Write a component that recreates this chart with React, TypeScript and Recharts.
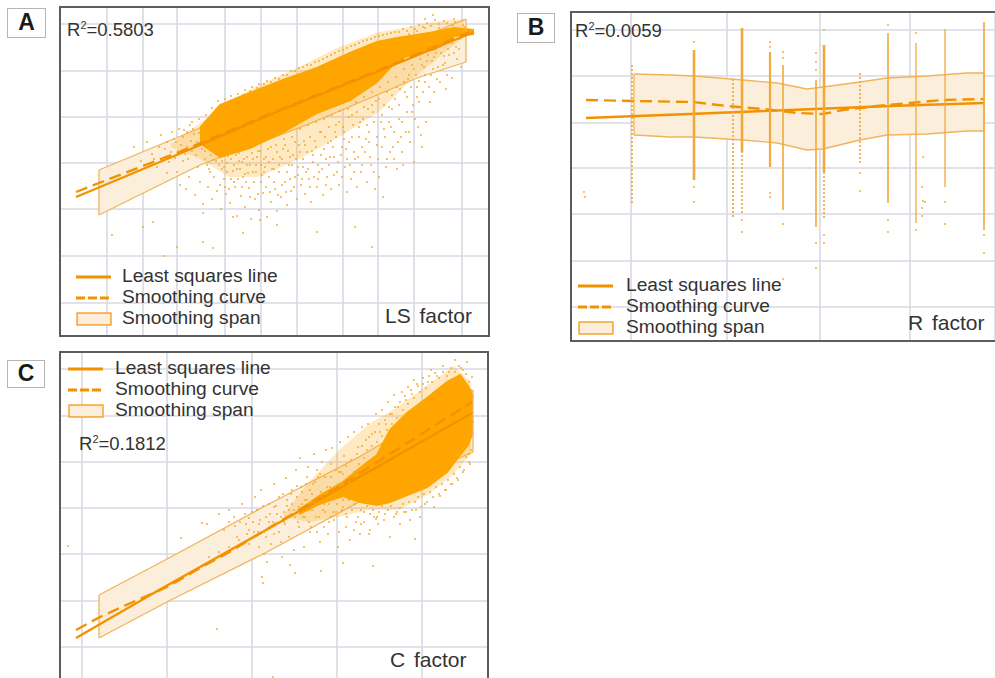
import React from "react";
import { ComposedChart, XAxis, YAxis, CartesianGrid, Line, Area, Scatter, Legend } from "recharts";

type Pair = [number, number];
type Triple = [number, number, number];

const legendLabels = ["Least squares line", "Smoothing curve", "Smoothing span"];

// ---------- Panel A ----------
const aGridX = [48, 84, 118, 166, 202, 238, 284, 319, 355, 403];
const aGridY = [34, 81, 128, 174, 220, 266, 313];
const aLeast: Pair[] = [[17, 140], [120, 183], [220, 226], [320, 266], [415, 305]];
const aSmooth: Pair[] = [[17, 145], [40, 154], [120, 185], [220, 227], [320, 267], [413, 306]];
const aSpan: Triple[] = [[40, 122, 167], [141, 172, 209], [250, 213, 255], [358, 259, 298], [407, 275, 318]];
const aHalo: Triple[] = [[112, 190, 193], [141, 178, 214], [170, 160, 236], [200, 160, 252], [240, 178, 270], [280, 200, 290], [320, 225, 305], [350, 255, 310], [380, 280, 316], [405, 300, 318]];
const aCloud: Triple[] = [[141, 194, 209], [161, 180, 232], [191, 189, 244], [224, 205, 257], [258, 224, 269], [291, 237, 284], [318, 255, 295], [338, 277, 299], [351, 282, 301], [376, 288, 305], [395, 301, 309], [415, 303, 307]];
const aDots: Pair[] = [
  [53, 102], [94, 115], [105, 81], [144, 95], [154, 89], [118, 90], [258, 105], [296, 110], [313, 90], [218, 112], [201, 117], [184, 104], [84, 110], [144, 124], [174, 120],
  [118, 165], [121, 152], [124, 176], [127, 148], [130, 160], [133, 186], [136, 142], [139, 170], [141, 155], [144, 133], [146, 178], [149, 150], [151, 165], [153, 138], [156, 187], [158, 146], [160, 172], [162, 128], [165, 158], [167, 143], [169, 181], [171, 134], [174, 166], [176, 150], [178, 121], [180, 176], [182, 141], [184, 160], [186, 130], [188, 172], [190, 149], [192, 118], [194, 165], [196, 138], [198, 180], [200, 127], [202, 155], [204, 144], [206, 170], [208, 120], [210, 160], [212, 135], [214, 178], [216, 148], [218, 126], [220, 165], [222, 140], [224, 188], [226, 155], [228, 132], [230, 172], [232, 146], [234, 182], [236, 160], [238, 138], [240, 192], [242, 152], [244, 170], [246, 143], [248, 185], [250, 158], [252, 135], [254, 175], [256, 196], [258, 150], [260, 165], [262, 182], [264, 142], [266, 200], [268, 160], [270, 172], [272, 148], [274, 190], [276, 205], [278, 165], [280, 152], [282, 182], [284, 210], [286, 170], [288, 145], [290, 195], [292, 158], [294, 212], [296, 178], [298, 150], [300, 200], [302, 165], [304, 218], [306, 185], [308, 155], [310, 205], [312, 172], [314, 225], [316, 148], [318, 192], [320, 160], [322, 215], [324, 140], [326, 200], [328, 178], [330, 230], [332, 210], [334, 190], [336, 238], [338, 168], [340, 218], [342, 200], [344, 172], [346, 245], [348, 225], [350, 205], [352, 250], [354, 232], [356, 218], [358, 240], [360, 256], [362, 202], [364, 245], [366, 262], [370, 250], [374, 268], [378, 258], [384, 272], [388, 262], [393, 259], [398, 278], [402, 270],
  [75, 190], [82, 176], [88, 195], [93, 183], [98, 170], [102, 202], [106, 188], [110, 175], [113, 205], [117, 195], [120, 208], [124, 200], [128, 190], [131, 212], [135, 203], [138, 195], [126, 183], [116, 179], [108, 164],
  [143, 188], [148, 172], [152, 182], [157, 176], [163, 168], [168, 174], [172, 158], [177, 182], [181, 168], [185, 178], [189, 164], [193, 184], [197, 172], [201, 186], [205, 178], [209, 188], [213, 168], [217, 192], [221, 180], [225, 198], [229, 186], [233, 200], [237, 178], [241, 208], [245, 196], [249, 212], [253, 186], [257, 215], [261, 205], [265, 218], [269, 194], [273, 222], [277, 212], [281, 226], [285, 198], [289, 228], [293, 222], [297, 235], [301, 215], [305, 240], [309, 228], [313, 245], [317, 236], [321, 250], [325, 232], [329, 255], [333, 242], [337, 260], [341, 248], [345, 268], [349, 258], [353, 272], [357, 262], [361, 278], [365, 270], [369, 282], [373, 276], [377, 284], [381, 290], [385, 281], [389, 288], [393, 294], [397, 290], [401, 298],
  [128, 205], [133, 215], [140, 218], [147, 222], [153, 229], [159, 236], [166, 238], [172, 241], [179, 243], [186, 247], [193, 250], [200, 253], [208, 256], [216, 259], [224, 262], [232, 266], [240, 269], [248, 272], [256, 275], [264, 278], [272, 282], [280, 286], [288, 289], [296, 292], [304, 296], [312, 298], [320, 301], [328, 303], [336, 305], [344, 308], [352, 310], [360, 312], [368, 314], [376, 317], [385, 316], [374, 322], [380, 309], [388, 308], [394, 312], [350, 303], [358, 306], [366, 309], [372, 304], [384, 300], [392, 303], [400, 306], [406, 310], [411, 305], [395, 318], [366, 318]
];
const aDense: Pair[] = [
  [146, 186], [150, 192], [154, 177], [158, 184], [163, 176], [165, 170], [168, 165], [170, 186], [172, 178], [175, 172], [178, 168], [180, 184], [183, 175], [186, 163], [188, 180], [191, 172], [194, 178], [197, 165], [199, 186], [202, 172], [205, 165], [207, 180], [210, 175], [212, 190], [215, 168], [218, 185], [220, 172], [223, 178], [226, 192], [228, 165], [231, 180], [233, 172], [236, 195], [239, 170], [241, 185], [244, 178], [246, 192], [249, 168], [251, 200], [254, 182], [257, 190], [259, 172], [262, 205], [265, 188], [267, 178], [270, 210], [272, 196], [275, 180], [277, 200], [280, 215], [283, 190], [285, 205], [288, 178], [290, 220], [293, 200], [295, 185], [298, 225], [300, 210], [303, 190], [305, 230], [308, 212], [310, 195], [313, 232], [315, 215], [318, 200], [320, 238], [323, 222], [325, 208], [328, 245], [330, 215], [333, 228], [335, 205], [338, 250], [340, 232], [343, 215], [345, 255], [348, 240], [350, 262], [353, 225], [355, 268], [358, 250], [360, 235], [363, 272], [366, 255], [368, 276], [372, 262], [375, 280], [379, 270], [382, 284], [386, 274], [390, 282], [395, 284], [400, 288],
  [150, 168], [155, 160], [161, 152], [166, 150], [170, 148], [175, 155], [179, 158], [183, 150], [187, 155], [191, 140], [195, 155], [199, 143], [203, 162], [207, 150], [211, 145], [215, 155], [219, 142], [223, 152], [227, 145], [231, 158], [235, 150], [239, 162], [243, 158], [247, 165], [251, 150], [255, 160], [259, 158], [263, 168], [267, 152], [271, 180], [275, 162], [279, 175], [283, 160], [287, 188], [291, 172], [295, 165], [299, 180], [303, 172], [307, 198], [311, 180], [315, 165], [319, 178], [323, 190], [327, 170], [331, 185], [335, 178], [339, 195], [343, 185], [347, 205], [351, 195], [355, 175], [359, 210], [363, 190], [367, 215], [371, 235], [375, 245], [381, 255], [387, 248],
  [150, 214], [156, 222], [163, 228], [170, 234], [177, 239], [184, 242], [191, 246], [198, 249], [205, 253], [212, 255], [220, 258], [228, 262], [236, 266], [244, 270], [252, 272], [260, 276], [268, 280], [276, 284], [284, 287], [292, 291], [300, 294], [308, 297], [316, 300], [324, 302], [332, 304], [340, 305], [348, 306], [356, 308], [364, 310], [372, 311], [380, 313], [388, 314], [396, 315], [404, 312],
  [95, 178], [100, 190], [104, 178], [108, 195], [112, 185], [115, 198], [119, 186], [122, 192], [125, 207], [129, 178], [132, 196], [134, 208], [137, 182], [140, 204]
];

// ---------- Panel B ----------
const bGridX = [61, 157, 250, 340, 425];
const bGridY = [35, 81, 128, 174, 219, 266, 312];
const bLeast: Pair[] = [[16, 224], [120, 228], [220, 232], [320, 236], [414, 239]];
const bSmooth: Pair[] = [[16, 242], [63, 241], [123, 240], [157, 236], [193, 233], [227, 229], [253, 228], [273, 232], [307, 236], [340, 239], [373, 242], [414, 243]];
const bSpan: Triple[] = [[64, 207, 268], [100, 205, 267], [124, 205, 266], [173, 202, 262], [207, 199, 259], [237, 192, 253], [253, 193, 255], [290, 202, 260], [317, 207, 264], [357, 208, 266], [397, 211, 269], [414, 211, 269]];
const bStripeX = [124, 172, 200, 213, 246, 254, 318, 346, 375, 414];
const bStripeLow = [162, 190, 175, 132, 115, 170, 139, 119, 155, 112];
const bStripeHigh = [292, 314, 290, 277, 262, 297, 309, 299, 313, 320];
const bStripeWeight = [2.6, 2.6, 2.2, 1.6, 1.6, 2.6, 1.6, 1.3, 1.3, 1.6];
const bDottedX = [62, 163, 290, 172, 254];
const bDottedLow = [139, 125, 179, 129, 124];
const bDottedHigh = [279, 265, 270, 190, 170];
const bDots: Pair[] = [
  [14, 150], [15, 145], [124, 300], [124, 155], [124, 140], [172, 122], [172, 110], [200, 300], [200, 295], [200, 149], [200, 145], [213, 290], [213, 284], [213, 118], [246, 289], [246, 280], [246, 272], [246, 99], [246, 74], [254, 312], [254, 107], [254, 99], [290, 169], [290, 151], [318, 317], [318, 122], [318, 110], [346, 309], [346, 112], [375, 140], [375, 118], [414, 107], [414, 89], [353, 185], [352, 155], [353, 141], [355, 140], [352, 134], [352, 126], [213, 63]
];

// ---------- Panel C ----------
const cGridX = [23, 108, 193, 278, 363];
const cGridY = [35, 81, 128, 174, 220, 266, 313];
const cLeast: Pair[] = [[17, 44], [100, 92], [200, 148], [274, 190], [413, 269]];
const cSmooth: Pair[] = [[17, 52], [41, 65], [74, 80], [108, 95], [141, 114], [174, 132], [198, 147], [274, 192], [413, 280]];
const cSpan: Triple[] = [[40, 44, 87], [108, 80, 123], [208, 130, 177], [300, 180, 225], [414, 230, 292]];
const cHalo: Triple[] = [[225, 165, 168], [250, 160, 200], [280, 165, 232], [310, 172, 258], [340, 172, 276], [370, 188, 298], [395, 208, 316], [412, 228, 300]];
const cCloud: Triple[] = [[240, 168, 172], [260, 178, 186], [284, 186, 200], [301, 180, 214], [318, 177, 227], [331, 180, 252], [348, 187, 269], [368, 195, 284], [388, 210, 300], [401, 227, 307], [409, 237, 296], [414, 250, 285]];
const cDots: Pair[] = [
  [158, 53], [9, 136], [214, 5], [314, 116], [356, 143], [262, 111], [204, 99], [203, 105], [208, 120], [231, 117], [236, 109], [284, 119], [148, 158], [143, 159], [122, 144], [160, 168], [165, 152], [170, 172], [175, 165], [178, 145], [183, 178], [187, 158], [190, 138], [193, 170], [196, 185], [199, 150], [202, 192], [205, 128], [207, 165], [210, 178], [212, 138], [215, 198], [218, 158], [220, 185], [223, 125], [225, 170], [227, 204], [230, 145], [232, 188], [235, 132], [237, 212], [239, 160], [241, 224], [243, 178], [245, 135], [247, 198], [249, 215], [251, 150], [253, 188], [255, 228], [257, 165], [259, 205], [261, 140], [263, 220], [265, 178], [267, 232], [269, 148], [271, 195], [273, 234], [275, 162], [277, 212], [279, 135], [281, 240], [283, 172], [285, 226], [287, 155], [289, 245], [291, 142], [293, 205], [295, 250], [297, 160], [299, 235], [301, 148], [303, 255], [305, 170], [307, 242], [309, 258], [311, 152], [313, 248], [315, 165], [317, 268], [319, 158], [321, 250], [323, 272], [325, 162], [327, 258], [329, 280], [331, 145], [333, 268], [335, 287], [337, 168], [339, 275], [341, 158], [343, 290], [345, 170], [347, 282], [349, 295], [351, 162], [353, 288], [355, 302], [357, 172], [359, 296], [361, 165], [364, 304], [366, 178], [369, 300], [372, 312], [375, 175], [378, 306], [381, 186], [384, 316], [387, 192], [390, 310], [393, 198], [396, 322], [399, 202], [402, 314], [405, 212], [408, 320], [411, 218], [413, 305], [410, 228],
  [170, 160], [176, 156], [181, 160], [186, 168], [190, 164], [194, 160], [198, 172], [201, 162], [204, 176], [208, 152], [211, 168], [214, 160], [217, 176], [220, 150], [222, 165], [224, 188], [226, 158], [228, 176], [231, 165], [233, 192], [235, 172], [238, 185], [240, 170], [242, 195], [244, 165], [246, 182], [248, 205], [250, 172], [252, 155], [254, 198], [256, 180], [258, 212], [260, 165], [262, 190], [264, 172], [266, 205], [268, 182], [270, 160], [272, 218], [274, 170], [276, 195], [278, 178], [280, 210]
];
const cDense: Pair[] = [
  [284, 208], [287, 216], [290, 200], [292, 222], [295, 210], [298, 228], [300, 218], [303, 236], [305, 224], [308, 232], [310, 245], [313, 236], [316, 250], [318, 240], [320, 258], [323, 246], [326, 262], [328, 252], [331, 268], [333, 258], [336, 275], [338, 264], [341, 280], [344, 272], [346, 286], [349, 278], [352, 292], [355, 284], [358, 298], [361, 290], [364, 298], [367, 294], [370, 306], [373, 300], [376, 309], [380, 304], [384, 310], [388, 306], [392, 314], [396, 310], [400, 316], [404, 312], [407, 308], [410, 300], [412, 292], [413, 270], [414, 260],
  [284, 175], [287, 168], [290, 182], [293, 172], [296, 178], [299, 165], [302, 172], [305, 160], [308, 176], [311, 168], [314, 172], [317, 163], [320, 170], [323, 176], [326, 168], [329, 172], [332, 176], [335, 165], [338, 170], [341, 174], [344, 178], [347, 170], [350, 180], [353, 172], [356, 180], [359, 185], [362, 175], [365, 188], [368, 180], [371, 190], [374, 185], [377, 195], [380, 188], [383, 198], [386, 192], [389, 202], [392, 198], [395, 208], [398, 204], [401, 215], [404, 210], [407, 225], [410, 220], [412, 232],
  [240, 175], [243, 190], [246, 165], [248, 182], [251, 192], [253, 172], [256, 200], [258, 178], [261, 208], [263, 185], [266, 170], [268, 195], [270, 178], [272, 205], [275, 184], [277, 170], [279, 198], [282, 210], [284, 182], [230, 172], [233, 178], [236, 165], [238, 196], [225, 160], [228, 182], [215, 175], [218, 168], [210, 160], [205, 150], [200, 158], [195, 150], [190, 152],
  [150, 125], [160, 130], [170, 135], [180, 142], [188, 148], [195, 145], [200, 135], [207, 145], [215, 148], [222, 140], [240, 155], [250, 160], [258, 150], [265, 155], [272, 165], [280, 150], [288, 165], [295, 152], [302, 158], [310, 148], [318, 165]
];

// ---------- Shared helpers ----------
const toPoints = (rows: Pair[]) => rows.map(([x, y]) => ({ x, y }));
const toBand = (rows: Triple[]) => rows.map(([x, lo, hi]) => ({ x, y: [lo, hi] }));

const TEXT = "#333333";
const FONT = '"Liberation Sans", Arial, sans-serif';
const GRID = "#D9DAE3";
const LINE = "#F39200";
const DOT = "#F5A623";
const CLOUD = "#FFA500";
const SPAN_FILL = "#FBEEDB";
const SPAN_EDGE = "#F1B45A";
const STRIPE = "#F2A93B";

const Dot = (props: any) => <circle cx={props.cx} cy={props.cy} r={0.9} fill={DOT} />;

function LegendBox({ textLeft }: { textLeft: number }) {
  return (
    <div style={{ position: "relative", height: 63, fontFamily: FONT, color: TEXT }}>
      {legendLabels.map((label, i) => (
        <div key={label} style={{ position: "absolute", top: i * 21, left: 0, height: 21, whiteSpace: "nowrap", width: 230 }}>
          <svg width={36} height={21} style={{ position: "absolute", left: 0, top: 0 }}>
            {i === 0 && <line x1={0} x2={35} y1={11} y2={11} stroke={LINE} strokeWidth={3} />}
            {i === 1 && <line x1={0} x2={35} y1={11} y2={11} stroke={LINE} strokeWidth={3} strokeDasharray="9 3" />}
            {i === 2 && <rect x={1} y={5} width={34} height={12} fill={SPAN_FILL} stroke={LINE} strokeWidth={1.2} />}
          </svg>
          <span style={{ position: "absolute", left: textLeft, top: -1, fontSize: 19.2, lineHeight: "21px" }}>{label}</span>
        </div>
      ))}
    </div>
  );
}

type PanelProps = {
  left: number; top: number; width: number; height: number;
  gridX: number[]; gridY: number[];
  least: Pair[]; smooth: Pair[]; span: Triple[];
  halo?: Triple[]; cloud?: Triple[]; dots: Pair[];
  legendLeft: number; legendTop: number; textLeft: number;
  children?: React.ReactNode;
  stripes?: React.ReactNode[];
};

function Panel(p: PanelProps) {
  const spanEdges = [p.span[0], p.span[p.span.length - 1]];
  return (
    <div style={{ position: "absolute", left: p.left, top: p.top, width: p.width, height: p.height, border: "2px solid #5C5C5C", boxSizing: "border-box", overflow: "hidden", background: "#fff" }}>
      <div style={{ position: "absolute", left: -2, top: -2 }}>
        <ComposedChart width={p.width} height={p.height} margin={{ top: 0, right: 0, bottom: 0, left: 0 }}>
          <XAxis dataKey="x" type="number" domain={[0, p.width]} ticks={p.gridX} hide allowDataOverflow />
          <YAxis dataKey="y" type="number" domain={[0, p.height]} ticks={p.gridY} hide allowDataOverflow />
          <CartesianGrid stroke={GRID} strokeWidth={1.6} />
          <Area data={toBand(p.span)} dataKey="y" fill={SPAN_FILL} fillOpacity={1} stroke={SPAN_EDGE} strokeWidth={1.3} isAnimationActive={false} legendType="none" />
          {spanEdges.map(([x, lo, hi]) => (
            <Line key={x} data={[{ x, y: lo }, { x, y: hi }]} dataKey="y" stroke={SPAN_EDGE} strokeWidth={1.3} dot={false} isAnimationActive={false} legendType="none" />
          ))}
          <Line data={toPoints(p.least)} dataKey="y" stroke={LINE} strokeWidth={2.4} dot={false} isAnimationActive={false} />
          <Line data={toPoints(p.smooth)} dataKey="y" stroke={LINE} strokeWidth={2.4} strokeDasharray="12 6" dot={false} isAnimationActive={false} />
          {p.halo && <Area data={toBand(p.halo)} dataKey="y" fill={CLOUD} fillOpacity={0.24} stroke="none" isAnimationActive={false} legendType="none" />}
          {p.cloud && <Area data={toBand(p.cloud)} dataKey="y" fill={CLOUD} fillOpacity={1} stroke={CLOUD} strokeWidth={2} isAnimationActive={false} legendType="none" />}
          {p.stripes}
          <Scatter data={toPoints(p.dots)} dataKey="y" shape={Dot} isAnimationActive={false} legendType="none" />
          <Legend layout="vertical" verticalAlign="middle" align="center" content={() => <LegendBox textLeft={p.textLeft} />} wrapperStyle={{ left: p.legendLeft, top: p.legendTop, width: 240, height: 63 }} />
        </ComposedChart>
      </div>
      {p.children}
    </div>
  );
}

const Tag = ({ left, top, w, h, text }: { left: number; top: number; w: number; h: number; text: string }) => (
  <div style={{ position: "absolute", left, top, width: w, height: h, boxSizing: "border-box", border: "1.5px solid #B5B5B5", fontFamily: FONT, fontWeight: 700, fontSize: 23, lineHeight: `${h - 3}px`, textAlign: "center", color: "#1A1A1A", background: "#fff" }}>{text}</div>
);

const RSquared = ({ left, top, value }: { left: number; top: number; value: string }) => (
  <div style={{ position: "absolute", left, top, fontFamily: FONT, fontSize: 18.5, lineHeight: "22px", color: TEXT, whiteSpace: "nowrap" }}>
    R<sup style={{ fontSize: 11, lineHeight: 0 }}>2</sup>={value}
  </div>
);

const Factor = ({ left, top, text }: { left: number; top: number; text: string }) => (
  <div style={{ position: "absolute", left, top, fontFamily: FONT, fontSize: 21, wordSpacing: 3, lineHeight: "24px", color: TEXT, whiteSpace: "nowrap" }}>{text}</div>
);

const bStripeLines = [
  ...bStripeX.map((x, i) => (
    <Line key={`s${x}`} data={[{ x, y: bStripeLow[i] }, { x, y: bStripeHigh[i] }]} dataKey="y" stroke={STRIPE} strokeWidth={bStripeWeight[i]} dot={false} isAnimationActive={false} legendType="none" />
  )),
  ...bDottedX.map((x, i) => (
    <Line key={`d${x}`} data={[{ x, y: bDottedLow[i] }, { x, y: bDottedHigh[i] }]} dataKey="y" stroke={STRIPE} strokeWidth={1.7} strokeDasharray="2 2" dot={false} isAnimationActive={false} legendType="none" />
  ))
];

export default function App() {
  return (
    <div style={{ position: "absolute", left: 0, top: 0, width: 995, height: 678, overflow: "hidden", background: "#fff" }}>
      <Panel left={59} top={6} width={431} height={331} gridX={aGridX} gridY={aGridY} least={aLeast} smooth={aSmooth} span={aSpan} halo={aHalo} cloud={aCloud} dots={[...aDots, ...aDense]} legendLeft={17} legendTop={260} textLeft={46} />
      <Panel left={570} top={11} width={430} height={331} gridX={bGridX} gridY={bGridY} least={bLeast} smooth={bSmooth} span={bSpan} dots={bDots} stripes={bStripeLines} legendLeft={8} legendTop={264} textLeft={48} />
      <Panel left={59} top={351} width={430} height={331} gridX={cGridX} gridY={cGridY} least={cLeast} smooth={cSmooth} span={cSpan} halo={cHalo} cloud={cCloud} dots={[...cDots, ...cDense]} legendLeft={9} legendTop={7} textLeft={47} />
      <Tag left={7} top={8} w={39} h={30} text="A" />
      <Tag left={517} top={13} w={38} h={30} text="B" />
      <Tag left={7} top={360} w={38} h={28} text="C" />
      <RSquared left={67} top={19} value="0.5803" />
      <RSquared left={575} top={20} value="0.0059" />
      <RSquared left={79} top={433} value="0.1812" />
      <Factor left={385} top={304} text="LS factor" />
      <Factor left={908} top={311} text="R factor" />
      <Factor left={390} top={648} text="C factor" />
    </div>
  );
}
